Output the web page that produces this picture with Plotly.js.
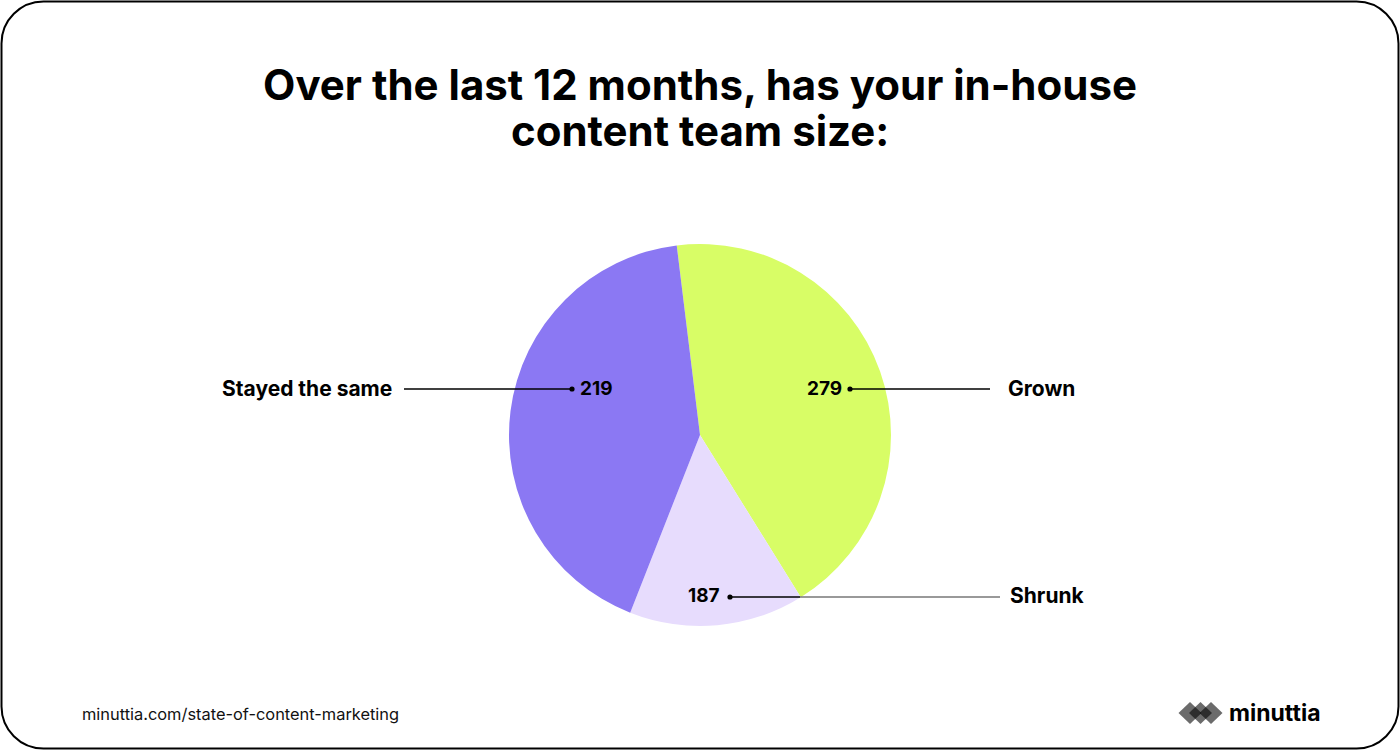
<!DOCTYPE html>
<html>
<head>
<meta charset="utf-8">
<script src="https://cdn.plot.ly/plotly-3.0.1.min.js"></script>
<style>html,body{margin:0;padding:0;background:#fff;}#chart{width:1400px;height:750px;}</style>
</head>
<body>
<div id="chart"></div>
<script>
// Data
var categories = ["Grown", "Shrunk", "Stayed the same"];
var sliceShares = [43.1, 14.8, 42.1];      // visual share of each slice (%)
var countLabels = ["279", "187", "219"];   // numbers printed on the slices
var sliceColors = ["#d8fd66", "#e7dcfd", "#8b78f3"];
var titleLines = ["Over the last 12 months, has your in-house", "content team size:"];

var W = 1400, H = 750;
function px(x) { return x / W; }
function py(y) { return 1 - y / H; }

var FONT = "Inter, Lato, sans-serif";

var trace = {
  type: "pie",
  labels: categories,
  values: sliceShares,
  sort: false,
  direction: "clockwise",
  rotation: -7,
  marker: { colors: sliceColors, line: { width: 0 } },
  textinfo: "none",
  hoverinfo: "label+value",
  showlegend: false,
  domain: { x: [0.3, 0.7], y: [py(626), py(244)] },
  automargin: false
};

// rounded frame path
function framePath(x0, y0, x1, y1, r) {
  var k = 0.5523 * r;
  function P(x, y) { return px(x) + "," + py(y); }
  return "M" + P(x0 + r, y0) +
    " L" + P(x1 - r, y0) +
    " C" + P(x1 - r + k, y0) + " " + P(x1, y0 + r - k) + " " + P(x1, y0 + r) +
    " L" + P(x1, y1 - r) +
    " C" + P(x1, y1 - r + k) + " " + P(x1 - r + k, y1) + " " + P(x1 - r, y1) +
    " L" + P(x0 + r, y1) +
    " C" + P(x0 + r - k, y1) + " " + P(x0, y1 - r + k) + " " + P(x0, y1 - r) +
    " L" + P(x0, y0 + r) +
    " C" + P(x0, y0 + r - k) + " " + P(x0 + r - k, y0) + " " + P(x0 + r, y0) + " Z";
}

function diamond(cx, cy, w, h) {
  return "M" + px(cx - w / 2) + "," + py(cy) +
    " L" + px(cx) + "," + py(cy - h / 2) +
    " L" + px(cx + w / 2) + "," + py(cy) +
    " L" + px(cx) + "," + py(cy + h / 2) + " Z";
}

function hline(x0, x1, y, color) {
  return { type: "line", xref: "paper", yref: "paper", x0: px(x0), x1: px(x1), y0: py(y), y1: py(y),
           line: { color: color, width: 1.3 } };
}
function dot(x, y) {
  return { type: "circle", xref: "paper", yref: "paper", x0: px(x - 2.6), x1: px(x + 2.6),
           y0: py(y - 2.6), y1: py(y + 2.6), fillcolor: "#000", line: { width: 0 } };
}

var shapes = [
  { type: "path", xref: "paper", yref: "paper", path: framePath(1.5, 1.5, 1398.5, 748.5, 42),
    line: { color: "#000", width: 2 }, fillcolor: "rgba(0,0,0,0)", layer: "above" },
  // leader lines
  hline(850, 990, 389, "#000"),
  hline(404, 572, 389, "#000"),
  hline(730, 800, 597, "#000"),
  hline(800, 1000, 597, "#777"),
  dot(850, 389), dot(572, 389), dot(730, 597),
  // logo diamonds
  { type: "path", xref: "paper", yref: "paper", path: diamond(1190, 713, 23, 22), fillcolor: "rgba(0,0,0,0.58)", line: { width: 0 } },
  { type: "path", xref: "paper", yref: "paper", path: diamond(1200.5, 713, 23, 22), fillcolor: "rgba(0,0,0,0.58)", line: { width: 0 } },
  { type: "path", xref: "paper", yref: "paper", path: diamond(1211, 713, 23, 22), fillcolor: "rgba(0,0,0,0.58)", line: { width: 0 } }
];

function ann(text, x, y, xanchor, size, weight, color) {
  return { text: text, xref: "paper", yref: "paper", x: px(x), y: py(y), xanchor: xanchor, yanchor: "middle",
           showarrow: false, font: { family: FONT, size: size, weight: weight, color: color || "#000" } };
}

var annotations = [
  ann(titleLines[1], 700, 131, "center", 42, 700),
  ann(countLabels[0], 844, 388, "right", 19, 700),
  ann(countLabels[2], 578, 388, "left", 19, 700),
  ann(countLabels[1], 722, 595, "right", 19, 700),
  ann(categories[0], 1006, 388, "left", 21, 700),
  ann(categories[2], 394, 388, "right", 21, 700),
  ann(categories[1], 1008, 595, "left", 21, 700),
  ann("minuttia.com/state-of-content-marketing", 80, 714, "left", 16.4, 400, "#111"),
  ann("minuttia", 1227, 713, "left", 23, 700, "#000")
];

var layout = {
  width: W, height: H,
  margin: { l: 0, r: 0, t: 0, b: 0 },
  paper_bgcolor: "#fff",
  title: {
    text: titleLines[0],
    x: 0.5, xanchor: "center", y: py(85), yanchor: "middle", yref: "container",
    font: { family: FONT, size: 42, weight: 700, color: "#000" }
  },
  shapes: shapes,
  annotations: annotations
};

Plotly.newPlot("chart", [trace], layout, { displayModeBar: false });
</script>
</body>
</html>
